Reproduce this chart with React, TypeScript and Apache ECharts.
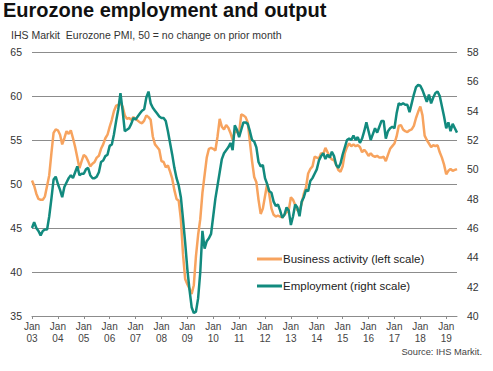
import React, { useEffect, useRef } from "react";
import * as echarts from "echarts";

const yearLabels = ["03","04","05","06","07","08","09","10","11","12","13","14","15","16","17","18","19"];

// Monthly, Jan 2003 .. Jun 2019
const businessActivity = [
  50.4, 49.8, 48.9, 48.3, 48.2, 48.2, 48.6, 49.8, 51.0, 53.5, 55.8, 56.2,
  56.1, 55.6, 54.5, 55.2, 56.0, 55.7, 56.1, 55.2, 54.2, 53.0, 51.8, 52.6,
  53.3, 53.1, 52.6, 52.0, 52.3, 52.5, 53.0, 53.2, 54.0, 54.5, 55.2, 55.6,
  56.5, 57.3, 58.3, 58.9, 59.0, 59.2, 58.8, 57.8, 57.4, 57.5, 57.3, 57.6,
  57.4, 57.2, 57.0, 56.9, 57.2, 57.8, 57.6, 57.3, 55.4, 54.5, 54.2, 53.9,
  52.6, 52.5, 51.9, 52.1, 51.4, 50.6, 49.3, 48.3, 48.1, 46.0, 42.0, 39.2,
  38.6, 38.1, 37.5, 38.5, 41.8, 44.2, 46.0, 49.0, 51.0, 53.0, 54.0, 54.1,
  54.0, 53.8, 55.4, 57.4, 56.5, 56.2, 56.7, 56.4, 55.8, 55.0, 56.0, 55.9,
  55.8, 57.9, 57.8, 57.6, 57.0, 54.8, 52.6, 50.8, 50.2, 48.2, 46.6, 47.2,
  48.6, 50.0, 48.8, 47.2, 46.5, 46.3, 46.4, 46.3, 46.2, 46.5, 46.8, 47.0,
  48.5, 48.2, 47.6, 47.0, 46.9, 47.8, 48.9, 49.6, 51.2, 51.7, 52.0, 53.1,
  53.0, 52.9, 53.5, 53.4, 54.1, 53.6, 53.1, 52.8, 52.7, 52.2, 51.6, 51.4,
  52.0, 53.5, 54.2, 54.6, 54.3, 54.5, 54.3, 54.4, 54.2, 53.6, 53.9, 53.6,
  53.2, 53.5, 53.2, 53.1, 53.2, 53.0, 53.0, 53.1, 52.6, 53.3, 54.0, 54.3,
  54.6, 55.4, 56.6, 56.7, 56.2, 56.0, 55.9, 56.1, 56.2, 56.6, 57.5, 58.2,
  58.8, 57.8, 55.5, 55.0, 54.6, 54.2, 54.4, 54.3, 54.4, 53.6, 53.0, 52.2,
  51.1, 51.5, 51.7, 51.5, 51.6, 51.7
];

const employment = [
  46.0, 46.4, 46.0, 45.8, 45.5, 45.8, 45.9, 45.9, 46.8, 48.0, 49.3, 49.5,
  49.0, 48.6, 48.1, 48.8, 49.1, 49.4, 49.6, 49.4, 49.8, 50.2, 49.6, 49.7,
  49.7, 50.0, 50.1, 49.6, 49.4, 49.4, 49.5, 49.8, 50.5, 50.6, 50.9, 51.0,
  51.6, 51.7, 52.4, 53.3, 54.1, 55.2, 54.0, 52.6, 52.7, 52.8, 53.1, 53.5,
  53.4, 53.6, 53.8, 54.0, 54.1, 54.9, 55.3, 54.5, 54.2, 54.0, 53.8, 53.6,
  53.5, 53.5, 53.3, 52.6, 51.8, 51.0, 50.1, 49.4, 48.9, 48.1, 46.6, 45.0,
  43.2, 41.8, 40.6, 40.2, 40.3, 41.2, 43.0, 45.8, 44.6, 45.1, 45.3, 45.6,
  46.8, 48.0, 48.9, 49.8, 50.7, 51.1, 51.3, 51.5, 51.8, 51.3, 53.0, 52.7,
  52.2, 52.7, 53.2, 53.2, 53.1, 52.6, 52.0, 51.9, 51.5, 50.5, 50.2, 50.3,
  49.4, 49.0, 48.5, 48.4, 47.8, 47.5, 47.6, 47.2, 46.7, 46.9, 47.4, 47.2,
  46.2, 46.8, 47.6, 47.4, 46.8, 47.8, 48.1, 48.6, 48.5, 49.2, 49.4, 49.7,
  50.0, 50.6, 50.9, 51.1, 50.7, 51.0, 50.8, 51.2, 50.9, 50.3, 50.1, 50.4,
  51.0, 51.5, 52.0, 52.1, 52.0, 52.3, 52.0, 52.2, 51.8, 52.1, 52.6, 53.2,
  52.6, 52.0, 52.4, 52.8, 52.5, 52.9, 53.3, 53.3, 52.1, 52.6, 52.8, 52.9,
  52.8, 53.8, 54.5, 54.4, 54.5, 54.4, 54.4, 53.9, 54.5, 55.1, 55.6, 55.75,
  55.7, 55.4, 55.0, 54.6, 55.1, 54.5, 54.9, 55.2, 55.3, 55.0, 54.3, 53.6,
  52.8, 53.2, 52.6, 53.1, 52.8, 52.5
];

const ORANGE = "#F7A35E";
const TEAL = "#128A7E";
const FONT = "Liberation Sans, Arial, sans-serif";

export default function App() {
  const ref = useRef<HTMLDivElement>(null);
  useEffect(() => {
    if (!ref.current) return;
    const chart = echarts.init(ref.current, null, { renderer: "svg" });
    const lastIdx = businessActivity.length - 1;
    chart.setOption({
      animation: false,
      backgroundColor: "#ffffff",
      textStyle: { fontFamily: FONT },
      title: [
        {
          text: "Eurozone employment and output",
          left: 3, top: 0, padding: 0,
          textStyle: { fontSize: 20, fontWeight: "bold", color: "#111", fontFamily: FONT },
        },
        {
          text: "IHS Markit  Eurozone PMI, 50 = no change on prior month",
          left: 11, top: 29, padding: 0,
          textStyle: { fontSize: 10.5, fontWeight: "normal", color: "#333", fontFamily: FONT },
        },
        {
          text: "Source: IHS Markit.",
          right: 11, top: 347, padding: 0,
          textStyle: { fontSize: 9.3, fontWeight: "normal", color: "#444", fontFamily: FONT },
        },
      ],
      legend: {
        orient: "vertical",
        left: 257, top: 253, padding: 0,
        itemWidth: 25, itemHeight: 3,
        itemGap: 15,
        icon: "rect",
        textStyle: { fontSize: 11.5, color: "#222", fontFamily: FONT, padding: [0, 0, 0, -4] },
        data: ["Business activity (left scale)", "Employment (right scale)"],
      },
      grid: { left: 32, right: 36, top: 52, bottom: 55, containLabel: false },
      xAxis: {
        type: "value",
        min: 0, max: lastIdx, interval: 12,
        axisLine: { show: true, lineStyle: { color: "#8c8c8c", width: 1 } },
        axisTick: { show: true, length: 3, lineStyle: { color: "#8c8c8c" } },
        splitLine: { show: false },
        axisLabel: {
          fontSize: 10, color: "#444", lineHeight: 12, margin: 4, fontFamily: FONT,
          showMaxLabel: false,
          formatter: (v: number) => {
            const i = Math.round(v / 12);
            return yearLabels[i] !== undefined ? "Jan\n" + yearLabels[i] : "";
          },
        },
      },
      yAxis: [
        {
          type: "value", min: 35, max: 65, interval: 5,
          axisLine: { show: false }, axisTick: { show: false },
          splitLine: { show: true, lineStyle: { color: "#8c8c8c", width: 1 } },
          axisLabel: { fontSize: 10.5, color: "#333", margin: 10, fontFamily: FONT },
        },
        {
          type: "value", min: 40, max: 58, interval: 2,
          axisLine: { show: false }, axisTick: { show: false },
          splitLine: { show: false },
          axisLabel: { fontSize: 10.5, color: "#333", margin: 10, fontFamily: FONT },
        },
      ],
      series: [
        {
          name: "Business activity (left scale)",
          type: "line", yAxisIndex: 0, showSymbol: false, symbol: "none",
          lineStyle: { color: ORANGE, width: 2.5 }, itemStyle: { color: ORANGE },
          data: businessActivity.map((v, i) => [i, v]),
        },
        {
          name: "Employment (right scale)",
          type: "line", yAxisIndex: 1, showSymbol: false, symbol: "none",
          lineStyle: { color: TEAL, width: 2.5 }, itemStyle: { color: TEAL },
          data: employment.map((v, i) => [i, v]),
        },
      ],
    });
    return () => chart.dispose();
  }, []);
  return (
    <div
      ref={ref}
      style={{ position: "fixed", left: 0, top: 0, width: 493, height: 371, background: "#fff" }}
    />
  );
}
